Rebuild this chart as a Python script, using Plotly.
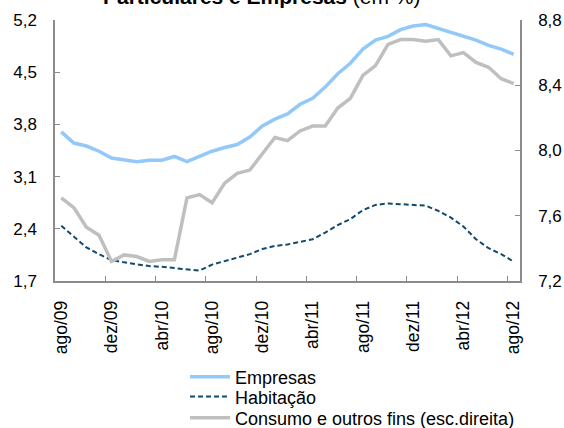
import plotly.graph_objects as go

months = ["ago/09","set/09","out/09","nov/09","dez/09","jan/10","fev/10","mar/10","abr/10","mai/10","jun/10","jul/10",
          "ago/10","set/10","out/10","nov/10","dez/10","jan/11","fev/11","mar/11","abr/11","mai/11","jun/11","jul/11",
          "ago/11","set/11","out/11","nov/11","dez/11","jan/12","fev/12","mar/12","abr/12","mai/12","jun/12","jul/12","ago/12"]

empresas = [3.70,3.55,3.51,3.44,3.35,3.33,3.30,3.32,3.32,3.37,3.30,3.37,3.44,3.49,3.53,3.63,3.78,3.87,3.94,4.07,
            4.15,4.30,4.48,4.62,4.81,4.93,4.98,5.07,5.12,5.14,5.09,5.03,4.98,4.93,4.86,4.81,4.74]
habitacao = [2.44,2.30,2.15,2.06,1.98,1.95,1.92,1.90,1.89,1.87,1.85,1.84,1.92,1.97,2.01,2.06,2.13,2.17,2.19,2.22,
             2.26,2.35,2.45,2.53,2.65,2.72,2.74,2.73,2.72,2.71,2.64,2.55,2.43,2.26,2.14,2.06,1.96]
consumo = [7.71,7.65,7.53,7.48,7.32,7.36,7.35,7.32,7.33,7.33,7.71,7.73,7.68,7.80,7.86,7.88,7.98,8.08,8.06,8.12,
           8.15,8.15,8.26,8.32,8.46,8.52,8.65,8.68,8.68,8.67,8.68,8.58,8.60,8.54,8.51,8.44,8.41]

left_ticks = [1.7, 2.4, 3.1, 3.8, 4.5, 5.2]
right_ticks = [7.2, 7.6, 8.0, 8.4, 8.8]
label_step = 4

x = list(range(len(months)))
FONT = "Liberation Sans, Arial, sans-serif"
AXC = "#8c8c8c"

fig = go.Figure()
fig.add_trace(go.Scatter(x=x, y=empresas, name="Empresas", mode="lines", legend="legend",
                         line=dict(color="#92c9f9", width=3.5)))
fig.add_trace(go.Scatter(x=x, y=habitacao, name="Habitação", mode="lines", legend="legend2",
                         line=dict(color="#12496e", width=2, dash="5px,3px")))
fig.add_trace(go.Scatter(x=x, y=consumo, name="Consumo e outros fins (esc.direita)", mode="lines",
                         legend="legend3", line=dict(color="#bfbfbf", width=3.5), yaxis="y2"))
fig.add_trace(go.Scatter(x=[None], y=[None], xaxis="x2", showlegend=False, hoverinfo="skip"))

xr = [-0.5, len(months) - 0.5]
tv = x[::label_step]
leg = dict(x=0.2796, xanchor="left", yanchor="middle", orientation="v",
           font=dict(size=18), bgcolor="rgba(0,0,0,0)", itemwidth=40)

fig.update_layout(
    width=564, height=428,
    margin=dict(l=55, r=44, t=20, b=147, autoexpand=False),
    plot_bgcolor="white", paper_bgcolor="white",
    font=dict(family=FONT, color="black"),
    showlegend=True,
    xaxis=dict(range=xr, tickvals=tv, ticktext=[months[i] for i in tv], tickangle=-90,
               ticks="", showline=True, linecolor=AXC, linewidth=1.5, showgrid=False, zeroline=False,
               tickfont=dict(size=17.5), ticklabelstandoff=11),
    xaxis2=dict(range=xr, overlaying="x", anchor="y", side="bottom",
                tickvals=[i - 0.5 for i in tv[1:]], ticks="inside", ticklen=5, tickcolor=AXC,
                showticklabels=False, showline=False, showgrid=False, zeroline=False),
    yaxis=dict(range=[left_ticks[0], left_ticks[-1]], tickvals=left_ticks,
               ticktext=[f"{v:.1f}".replace(".", ",") for v in left_ticks],
               ticks="inside", ticklen=5, tickcolor=AXC, showline=True, linecolor=AXC, linewidth=1.5,
               showgrid=False, zeroline=False, tickfont=dict(size=17), ticklabelstandoff=13),
    yaxis2=dict(range=[right_ticks[0], right_ticks[-1]], tickvals=right_ticks,
                ticktext=[f"{v:.1f}".replace(".", ",") for v in right_ticks],
                overlaying="y", side="right",
                ticks="inside", ticklen=5, tickcolor=AXC, showline=True, linecolor=AXC, linewidth=1.5,
                showgrid=False, zeroline=False, tickfont=dict(size=17), ticklabelstandoff=13),
    legend=dict(leg, y=-0.368),
    legend2=dict(leg, y=-0.444),
    legend3=dict(leg, y=-0.525),
    annotations=[dict(text="<b>Particulares e Empresas</b> (em %)", x=0.445, y=1.038,
                      xref="paper", yref="paper", xanchor="center", yanchor="bottom",
                      showarrow=False, font=dict(size=21))],
)

fig.write_html("out.html", config={"displayModeBar": False},
               post_script="document.body.style.margin='0';document.body.style.overflow='hidden';")
